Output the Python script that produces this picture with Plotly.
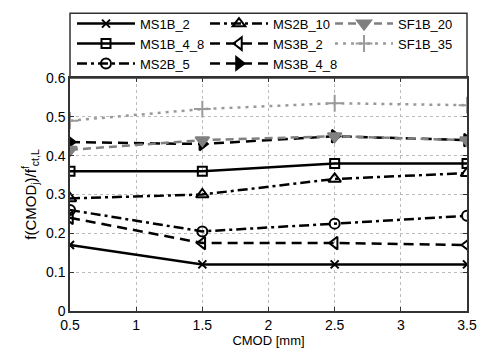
import plotly.graph_objects as go

cmod = [0.5, 1.5, 2.5, 3.5]
series_names = ["MS1B_2", "MS1B_4_8", "MS2B_5", "MS2B_10", "MS3B_2", "MS3B_4_8", "SF1B_20", "SF1B_35"]
ms1b_2 = [0.17, 0.12, 0.12, 0.12]
ms1b_4_8 = [0.36, 0.36, 0.38, 0.38]
ms2b_5 = [0.26, 0.205, 0.225, 0.245]
ms2b_10 = [0.29, 0.30, 0.34, 0.355]
ms3b_2 = [0.24, 0.175, 0.175, 0.17]
ms3b_4_8 = [0.435, 0.43, 0.45, 0.44]
sf1b_20 = [0.415, 0.44, 0.45, 0.44]
sf1b_35 = [0.49, 0.52, 0.535, 0.53]
x_ticks = [0.5, 1, 1.5, 2, 2.5, 3, 3.5]
x_tick_labels = ["0.5", "1", "1.5", "2", "2.5", "3", "3.5"]
y_ticks = [0, 0.1, 0.2, 0.3, 0.4, 0.5, 0.6]
y_tick_labels = ["0", "0.1", "0.2", "0.3", "0.4", "0.5", "0.6"]

values = [ms1b_2, ms1b_4_8, ms2b_5, ms2b_10, ms3b_2, ms3b_4_8, sf1b_20, sf1b_35]
styles = [
    dict(color="#000000", dash="solid", symbol="x-thin-open", size=8, legend="legend"),
    dict(color="#000000", dash="solid", symbol="square-open", size=9, legend="legend"),
    dict(color="#000000", dash="10px,4px,3px,4px", symbol="circle-open", size=10, legend="legend"),
    dict(color="#000000", dash="10px,4px,3px,4px", symbol="triangle-up-open", size=11, legend="legend2"),
    dict(color="#000000", dash="10px,6px", symbol="triangle-left-open", size=11, legend="legend2"),
    dict(color="#000000", dash="10px,6px", symbol="triangle-right", size=11, legend="legend2"),
    dict(color="#808080", dash="8px,5px", symbol="triangle-down", size=12, legend="legend3"),
    dict(color="#9a9a9a", dash="3px,5px", symbol="cross-thin-open", size=12, legend="legend3"),
]

fig = go.Figure()
for name, vals, st in zip(series_names, values, styles):
    fig.add_trace(go.Scatter(
        x=cmod, y=vals, name=name, mode="lines+markers",
        line=dict(color=st["color"], width=2.5, dash=st["dash"]),
        marker=dict(symbol=st["symbol"], size=st["size"], color=st["color"],
                    line=dict(color=st["color"], width=2)),
        legend=st["legend"],
    ))

font = dict(family="Liberation Sans, Arial, sans-serif", size=13, color="#000000")
leg_font = dict(family="Liberation Sans, Arial, sans-serif", size=13, color="#000000")
leg_common = dict(bgcolor="rgba(0,0,0,0)", borderwidth=0, orientation="v",
                  xanchor="left", yanchor="top", y=1.292, font=leg_font,
                  itemwidth=58, tracegroupgap=0)
fig.update_layout(
    width=477, height=351,
    margin=dict(l=70, r=10, t=77, b=40),
    paper_bgcolor="white", plot_bgcolor="white",
    font=font,
    showlegend=True,
    legend=dict(x=0.005, **leg_common),
    legend2=dict(x=0.34, **leg_common),
    legend3=dict(x=0.655, **leg_common),
    xaxis=dict(range=[0.5, 3.5], tickvals=x_ticks, ticktext=x_tick_labels,
               showgrid=True, gridcolor="#bbbbbb", griddash="dot", gridwidth=1,
               showline=True, linecolor="#333333", linewidth=1.5, mirror="ticks",
               ticks="inside", ticklen=4, tickcolor="#333333", zeroline=False,
               tickfont=dict(size=14), automargin=False,
               title=dict(text="CMOD [mm]", standoff=4, font=font)),
    yaxis=dict(range=[0, 0.6], tickvals=y_ticks, ticktext=y_tick_labels,
               showgrid=True, gridcolor="#bbbbbb", griddash="dot", gridwidth=1,
               showline=True, linecolor="#333333", linewidth=1.5, mirror="ticks",
               ticks="inside", ticklen=4, tickcolor="#333333", zeroline=False,
               tickfont=dict(size=14), automargin=False,
               title=dict(text="f(CMOD<sub>j</sub>)/f<sup>f</sup><sub>ct,L</sub>", standoff=6,
                          font=dict(family="Liberation Sans, Arial, sans-serif", size=15, color="#000000"))),
    shapes=[dict(type="rect", xref="paper", yref="paper", x0=0, x1=1, y0=1, y1=1.278,
                 line=dict(color="#333333", width=1.5), fillcolor="rgba(0,0,0,0)")],
)

fig.write_html("out.html")
